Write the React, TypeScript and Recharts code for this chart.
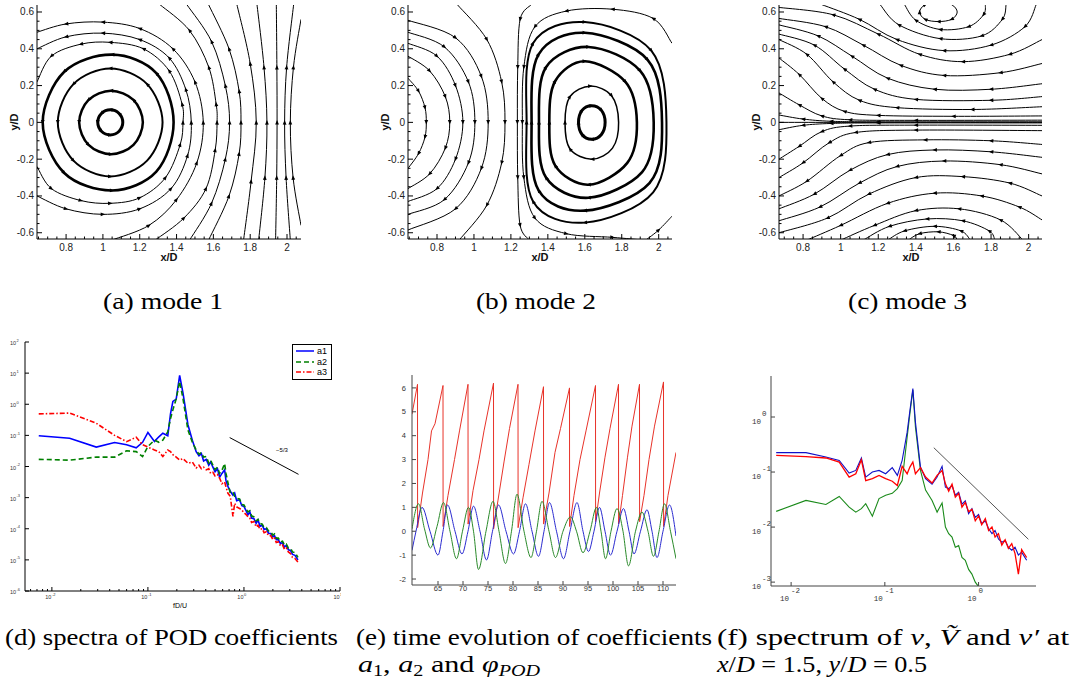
import React from 'react'
import { LineChart, Line, XAxis, YAxis, ReferenceLine, Legend } from 'recharts'

type Pt = [number, number]

// ---------- (a) mode 1 streamlines ----------
const mode1Loops: Pt[][] = [
  [[1.108, 0], [1.088, 0.048], [1.04, 0.068], [0.992, 0.048], [0.972, 0], [0.992, -0.048], [1.04, -0.068], [1.088, -0.048]],
  [[1.217, 0], [1.166, 0.122], [1.044, 0.172], [0.922, 0.122], [0.871, 0], [0.922, -0.122], [1.044, -0.173], [1.166, -0.122]],
  [[1.324, 0], [1.24, 0.208], [1.04, 0.293], [0.84, 0.208], [0.755, 0], [0.84, -0.208], [1.04, -0.294], [1.24, -0.208]],
  [[1.384, 0], [1.29, 0.268], [1.05, 0.368], [0.79, 0.275], [0.673, 0], [0.79, -0.275], [1.05, -0.37], [1.29, -0.268]],
]
const mode1Lines: Pt[][] = [
  [[0.642, 0.22], [0.72, 0.36], [0.88, 0.425], [1.04, 0.435], [1.22, 0.4], [1.36, 0.28], [1.43, 0.1], [1.435, 0], [1.42, -0.12], [1.34, -0.3], [1.2, -0.41], [1.04, -0.44], [0.88, -0.425], [0.72, -0.36], [0.642, -0.24]],
  [[0.642, 0.4], [0.8, 0.465], [1.0, 0.485], [1.2, 0.45], [1.36, 0.35], [1.45, 0.18], [1.48, 0], [1.46, -0.18], [1.37, -0.36], [1.2, -0.47], [1.0, -0.5], [0.8, -0.47], [0.642, -0.4]],
  [[0.642, 0.49], [0.8, 0.535], [1.0, 0.545], [1.2, 0.51], [1.38, 0.4], [1.5, 0.22], [1.545, 0], [1.51, -0.22], [1.4, -0.42], [1.25, -0.56], [1.048, -0.64]],
  [[1.31, 0.64], [1.47, 0.5], [1.575, 0.3], [1.615, 0.1], [1.62, 0], [1.61, -0.15], [1.56, -0.36], [1.44, -0.52], [1.284, -0.64]],
  [[1.456, 0.64], [1.59, 0.44], [1.665, 0.2], [1.688, 0], [1.665, -0.2], [1.59, -0.44], [1.471, -0.64]],
  [[1.574, 0.64], [1.685, 0.4], [1.74, 0.17], [1.75, 0], [1.74, -0.17], [1.685, -0.4], [1.574, -0.64]],
  [[1.728, 0.64], [1.8, 0.32], [1.833, 0], [1.805, -0.32], [1.764, -0.64]],
  [[1.837, 0.64], [1.875, 0.3], [1.891, 0], [1.88, -0.3], [1.846, -0.64]],
  [[1.942, 0.64], [1.945, 0.3], [1.946, 0], [1.944, -0.3], [1.938, -0.64]],
  [[2.036, 0.64], [1.998, 0.3], [1.987, 0], [1.995, -0.3], [2.018, -0.64]],
  [[2.076, 0.56], [2.035, 0.3], [2.018, 0], [2.033, -0.3], [2.076, -0.56]],
]

// ---------- (b) mode 2 streamlines ----------
const mode2Loops: Pt[][] = [
  [[1.71, 0], [1.69, 0.065], [1.637, 0.09], [1.585, 0.065], [1.566, 0], [1.585, -0.066], [1.637, -0.092], [1.69, -0.066]],
  [[1.783, 0], [1.745, 0.145], [1.63, 0.197], [1.52, 0.14], [1.493, 0], [1.52, -0.145], [1.64, -0.2], [1.75, -0.14]],
  [[1.882, 0], [1.82, 0.22], [1.6, 0.332], [1.44, 0.225], [1.408, 0], [1.44, -0.235], [1.62, -0.339], [1.83, -0.22]],
  [[1.973, 0], [1.9, 0.28], [1.62, 0.41], [1.39, 0.3], [1.352, 0], [1.39, -0.3], [1.62, -0.41], [1.91, -0.27]],
  [[2.018, 0], [1.94, 0.34], [1.6, 0.487], [1.35, 0.37], [1.312, 0], [1.35, -0.37], [1.6, -0.48], [1.95, -0.33]],
  [[2.042, 0], [1.96, 0.39], [1.6, 0.545], [1.32, 0.43], [1.285, 0], [1.32, -0.43], [1.6, -0.545], [1.97, -0.38]],
]
const mode2Lines: Pt[][] = [
  [[2.072, 0.43], [1.97, 0.565], [1.75, 0.615], [1.5, 0.605], [1.33, 0.52], [1.27, 0.3], [1.262, 0], [1.27, -0.3], [1.33, -0.52], [1.5, -0.605], [1.75, -0.625], [1.92, -0.64]],
  [[1.31, 0.64], [1.25, 0.56], [1.237, 0.3], [1.235, 0], [1.237, -0.3], [1.25, -0.56], [1.3, -0.64]],
  [[1.93, -0.64], [2.0, -0.585], [2.072, -0.51]],
  [[0.643, 0.24], [0.7, 0.17], [0.735, 0.08], [0.742, 0], [0.735, -0.08], [0.7, -0.17], [0.643, -0.25]],
  [[0.643, 0.36], [0.76, 0.28], [0.845, 0.14], [0.869, 0], [0.845, -0.14], [0.76, -0.28], [0.643, -0.36]],
  [[0.643, 0.43], [0.8, 0.36], [0.9, 0.2], [0.94, 0], [0.9, -0.2], [0.8, -0.36], [0.643, -0.43]],
  [[0.643, 0.49], [0.84, 0.41], [0.97, 0.22], [1.005, 0], [0.97, -0.22], [0.84, -0.42], [0.643, -0.5]],
  [[0.643, 0.555], [0.9, 0.46], [1.04, 0.25], [1.077, 0], [1.04, -0.25], [0.9, -0.47], [0.643, -0.585]],
  [[0.91, 0.64], [1.07, 0.45], [1.15, 0.22], [1.168, 0], [1.15, -0.22], [1.07, -0.45], [0.92, -0.64]],
]

// ---------- (c) mode 3 streamlines ----------
const mode3Loops: Pt[][] = [
  [[1.62, 0.6], [1.59, 0.56], [1.52, 0.548], [1.45, 0.56], [1.42, 0.6], [1.45, 0.64], [1.52, 0.655], [1.59, 0.64]],
]
const mode3Lines: Pt[][] = [
  [[0.672, 0], [2.071, 0]],
  [[0.672, 0.04], [0.8, 0.018], [0.95, 0.006], [1.2, 0.003], [2.071, 0.003]],
  [[0.672, 0.16], [0.78, 0.095], [0.9, 0.035], [1.05, 0.014], [1.4, 0.011], [2.071, 0.012]],
  [[0.672, 0.35], [0.78, 0.26], [0.9, 0.13], [1.02, 0.06], [1.2, 0.038], [1.6, 0.033], [2.071, 0.035]],
  [[0.672, 0.45], [0.82, 0.37], [0.96, 0.22], [1.1, 0.12], [1.3, 0.08], [1.7, 0.07], [2.071, 0.085]],
  [[0.672, 0.48], [0.86, 0.42], [1.02, 0.29], [1.18, 0.18], [1.4, 0.125], [1.8, 0.12], [2.071, 0.14]],
  [[0.672, 0.53], [0.88, 0.47], [1.06, 0.36], [1.25, 0.24], [1.5, 0.18], [1.8, 0.18], [2.071, 0.21]],
  [[0.672, 0.565], [0.92, 0.52], [1.12, 0.42], [1.32, 0.31], [1.55, 0.255], [1.85, 0.27], [2.071, 0.32]],
  [[0.672, 0.625], [0.96, 0.585], [1.2, 0.48], [1.42, 0.37], [1.65, 0.33], [1.9, 0.37], [2.071, 0.45]],
  [[0.9, 0.64], [1.1, 0.56], [1.3, 0.45], [1.55, 0.39], [1.8, 0.42], [1.98, 0.52], [2.04, 0.64]],
  [[1.21, 0.64], [1.31, 0.53], [1.53, 0.455], [1.75, 0.47], [1.86, 0.56], [1.88, 0.64]],
  [[1.34, 0.64], [1.4, 0.555], [1.53, 0.505], [1.68, 0.52], [1.76, 0.585], [1.77, 0.64]],
  [[0.672, -0.04], [0.8, -0.016], [0.95, -0.006], [1.2, -0.003], [2.071, -0.003]],
  [[0.672, -0.2], [0.78, -0.13], [0.9, -0.05], [1.05, -0.02], [1.4, -0.015], [2.071, -0.016]],
  [[0.672, -0.3], [0.8, -0.22], [0.94, -0.11], [1.08, -0.055], [1.4, -0.042], [2.071, -0.045]],
  [[0.672, -0.4], [0.82, -0.32], [1.0, -0.18], [1.15, -0.11], [1.45, -0.095], [1.8, -0.1], [2.071, -0.12]],
  [[0.672, -0.47], [0.86, -0.39], [1.05, -0.26], [1.25, -0.175], [1.5, -0.15], [1.8, -0.16], [2.071, -0.19]],
  [[0.672, -0.535], [0.89, -0.46], [1.1, -0.33], [1.3, -0.24], [1.55, -0.21], [1.85, -0.23], [2.071, -0.28]],
  [[0.672, -0.6], [0.93, -0.52], [1.15, -0.39], [1.4, -0.3], [1.65, -0.295], [1.9, -0.33], [2.071, -0.4]],
  [[0.82, -0.64], [1.0, -0.56], [1.25, -0.44], [1.5, -0.385], [1.75, -0.4], [1.95, -0.46], [2.071, -0.53]],
  [[1.0, -0.64], [1.18, -0.56], [1.4, -0.48], [1.63, -0.47], [1.85, -0.53], [1.97, -0.64]],
  [[1.12, -0.64], [1.26, -0.565], [1.46, -0.525], [1.65, -0.535], [1.79, -0.59], [1.82, -0.64]],
  [[1.25, -0.64], [1.34, -0.59], [1.5, -0.565], [1.64, -0.59], [1.69, -0.64]],
  [[1.36, -0.64], [1.42, -0.605], [1.52, -0.595], [1.6, -0.615], [1.62, -0.64]],
]

// axis ticks (major every 0.2, minor every 0.05)
const streamXTicks = [0.65, 0.7, 0.75, 0.8, 0.85, 0.9, 0.95, 1, 1.05, 1.1, 1.15, 1.2, 1.25, 1.3, 1.35, 1.4, 1.45, 1.5, 1.55, 1.6, 1.65, 1.7, 1.75, 1.8, 1.85, 1.9, 1.95, 2, 2.05]
const streamYTicks = [-0.6, -0.55, -0.5, -0.45, -0.4, -0.35, -0.3, -0.25, -0.2, -0.15, -0.1, -0.05, 0, 0.05, 0.1, 0.15, 0.2, 0.25, 0.3, 0.35, 0.4, 0.45, 0.5, 0.55, 0.6]

// ---------- (d) spectra of POD coefficients ----------
const podFreq = [
  0.0073, 0.0153, 0.029, 0.045, 0.06, 0.0755, 0.088, 0.1, 0.117, 0.13, 0.143, 0.161, 0.172, 0.182, 0.197, 0.214, 0.232, 0.261, 0.29, 0.318,
  0.34, 0.36, 0.38, 0.405, 0.43, 0.45, 0.475, 0.5, 0.53, 0.558,
  0.59, 0.629, 0.65, 0.681, 0.72, 0.768, 0.8, 0.84, 0.9, 0.95,
  1.0, 1.06, 1.1, 1.15, 1.2, 1.27, 1.34, 1.4, 1.47, 1.55,
  1.62, 1.71, 1.8, 1.9, 2.0, 2.08, 2.17, 2.28, 2.4, 2.52,
  2.64, 2.76, 2.9, 3.05, 3.2, 3.4, 3.65,
]
const a1Psd = [
  0.097, 0.081, 0.042, 0.059, 0.05, 0.04, 0.06, 0.124, 0.064, 0.09, 0.117, 0.097, 0.5, 1.23, 1.46, 8.4, 2.27, 0.22, 0.07, 0.03,
  0.022, 0.026, 0.015, 0.017, 0.011, 0.014, 0.0095, 0.0068, 0.0085, 0.0045,
  0.006, 0.0078, 0.0035, 0.0023, 0.0016, 0.0012, 0.0014, 0.0008, 0.00085, 0.00055,
  0.00052, 0.00036, 0.00028, 0.00035, 0.00022, 0.00021, 0.00015, 0.00019, 0.00012, 0.00013,
  9.5e-5, 1e-4, 7.2e-5, 7e-5, 5.5e-5, 6e-5, 4.5e-5, 4.4e-5, 3.3e-5, 3.6e-5,
  2.6e-5, 2.9e-5, 2.1e-5, 2e-5, 1.5e-5, 1.4e-5, 1e-5,
]
const a2Psd = [
  0.017, 0.016, 0.02, 0.02, 0.032, 0.03, 0.021, 0.044, 0.07, 0.06, 0.07, 0.13, 0.35, 0.66, 1.5, 5.4, 1.5, 0.15, 0.06, 0.034,
  0.025, 0.028, 0.02, 0.021, 0.013, 0.016, 0.011, 0.008, 0.0095, 0.006,
  0.0075, 0.0125, 0.006, 0.003, 0.0014, 0.0015, 0.0011, 0.00095, 0.0009, 0.0006,
  0.00058, 0.00042, 0.00035, 0.00038, 0.00026, 0.00024, 0.00018, 0.0002, 0.00015, 0.00014,
  1.1e-4, 1.1e-4, 8.5e-5, 8e-5, 6.2e-5, 6.8e-5, 5e-5, 5e-5, 3.8e-5, 4e-5,
  3e-5, 3.2e-5, 2.4e-5, 2.4e-5, 1.8e-5, 1.7e-5, 1.2e-5,
]
const a3Psd = [
  0.49, 0.52, 0.245, 0.1, 0.063, 0.087, 0.05, 0.042, 0.034, 0.03, 0.021, 0.034, 0.03, 0.024, 0.02, 0.016, 0.018, 0.0127, 0.014, 0.0089,
  0.011, 0.0085, 0.0095, 0.0078, 0.0085, 0.006, 0.0065, 0.005, 0.0055, 0.0042,
  0.0028, 0.0032, 0.0022, 0.00138, 0.0011, 0.00025, 0.00065, 0.0005, 0.00045, 0.0004,
  0.00033, 0.00028, 0.00024, 0.00022, 0.00016, 0.00017, 0.000115, 0.00013, 9.5e-5, 1e-4,
  7.5e-5, 8e-5, 6e-5, 6e-5, 4.5e-5, 5e-5, 3.6e-5, 3.8e-5, 2.8e-5, 3e-5,
  2.2e-5, 2.4e-5, 1.8e-5, 1.6e-5, 1.2e-5, 1.1e-5, 8.5e-6,
]
const podSlope = [{ x: 0.71, y: 0.085 }, { x: 3.7, y: 0.0056 }]
const podSeries = [
  { key: 'a1', color: '#0000ff', dash: undefined },
  { key: 'a2', color: '#008000', dash: '5 3' },
  { key: 'a3', color: '#ff0000', dash: '5 2 1.5 2' },
]
const podXTicks = [0.006, 0.007, 0.008, 0.009, 0.01, 0.02, 0.03, 0.04, 0.05, 0.06, 0.07, 0.08, 0.09, 0.1, 0.2, 0.3, 0.4, 0.5, 0.6, 0.7, 0.8, 0.9, 1, 2, 3, 4, 5, 6, 7, 8, 9, 10]
const podYTicks = [1e-6, 1e-5, 1e-4, 1e-3, 1e-2, 1e-1, 1, 10, 100]

// ---------- (e) time evolution ----------
const phiPod: Pt[] = [
  [59.8, 4.9], [60.9, 6.15], [60.92, 0.15], [61.9, 1.6], [63.0, 3.0], [63.7, 4.2], [64.4, 4.5], [66.0, 6.1],
  [66.02, 0.2], [67.0, 1.5], [68.3, 3.0], [69.3, 4.2], [71.0, 6.15],
  [71.02, 0.3], [72.0, 1.7], [73.2, 3.0], [74.2, 4.2], [76.1, 6.2],
  [76.12, 0.1], [77.0, 1.3], [78.2, 2.9], [79.3, 4.3], [81.0, 6.15],
  [81.02, 0.15], [82.0, 1.4], [83.2, 2.8], [84.4, 4.2], [86.1, 6.05],
  [86.12, 0.3], [87.2, 1.6], [88.4, 3.3], [89.5, 4.3], [91.3, 6.0],
  [91.32, 0.2], [92.2, 1.5], [93.4, 3.0], [94.6, 4.2], [96.5, 6.1],
  [96.52, 0.4], [97.3, 1.6], [98.4, 3.1], [99.4, 4.3], [101.1, 6.15],
  [101.12, 0.3], [101.9, 1.5], [102.9, 3.1], [103.8, 4.4], [105.3, 6.15],
  [105.32, 0.4], [106.2, 1.5], [107.2, 3.0], [108.3, 4.4], [110.1, 6.25],
  [110.12, 0.2], [111.0, 1.5], [112.6, 3.3],
]
const a1Time: Pt[] = [
  [59.8, -0.8], [60.6, 0], [61.8, 1.0], [63.4, 0], [65.0, -1.0], [66.0, 0], [66.9, 1.1], [68.4, 0], [69.8, -0.95], [71.0, 0],
  [72.1, 1.05], [73.4, 0], [74.7, -1.2], [75.9, 0], [77.1, 1.1], [78.6, 0], [80.1, -0.95], [81.3, 0], [82.5, 1.15], [83.8, 0],
  [85.1, -1.05], [86.2, 0], [87.3, 1.2], [88.7, 0], [90.1, -1.15], [91.4, 0], [92.8, 1.2], [94.0, 0], [95.1, -0.85], [96.2, 0],
  [97.3, 1.0], [98.4, 0], [99.5, -1.0], [100.8, 0], [102.1, 0.95], [103.2, 0], [104.2, -0.95], [105.5, 0], [106.8, 0.9], [107.8, 0],
  [108.8, -1.1], [110.0, 0], [111.3, 1.1], [112.6, -0.2],
]
const a2Time: Pt[] = [
  [59.8, 0.1], [61.1, 1.15], [62.3, 0.1], [63.5, -0.7], [64.8, 0.2], [66.1, 1.2], [67.4, 0], [68.7, -1.15], [69.9, 0], [71.1, 1.0],
  [72.1, 0], [73.1, -1.6], [74.6, 0], [76.0, 1.25], [77.2, 0], [78.5, -1.35], [79.7, 0], [80.8, 1.55], [82.2, 0], [83.6, -1.1],
  [84.7, 0], [85.8, 1.25], [87.2, 0], [88.5, -1.1], [90.0, 0], [91.5, 0.6], [92.7, 0], [94.0, -0.9], [95.4, 0], [96.7, 1.0],
  [97.6, 0], [98.5, -1.15], [99.6, 0], [100.8, 0.95], [102.0, 0], [103.1, -1.45], [104.5, 0], [105.8, 0.8], [107.0, 0], [108.1, -1.05],
  [109.2, 0], [110.3, 1.15], [111.5, 0], [112.6, -1.15],
]
const timeTicks = [65, 70, 75, 80, 85, 90, 95, 100, 105, 110]
const coefTicks = [-2, -1, 0, 1, 2, 3, 4, 5, 6]

// ---------- (f) spectrum at x/D = 1.5, y/D = 0.5 ----------
const specFreq = [
  0.00693, 0.0144, 0.0235, 0.0326, 0.0416, 0.049, 0.0562, 0.0625, 0.0736, 0.0867,
  0.102, 0.12, 0.136, 0.153, 0.173, 0.185, 0.199, 0.212, 0.24, 0.272,
  0.319, 0.361, 0.408, 0.443, 0.48, 0.521, 0.565, 0.613, 0.665, 0.722,
  0.783, 0.849, 0.922, 1.0, 1.08, 1.18, 1.28, 1.39, 1.5, 1.63,
  1.77, 1.92, 2.08, 2.26, 2.45, 2.66, 2.88, 3.26,
]
const vPsd = [
  0.225, 0.225, 0.187, 0.163, 0.096, 0.107, 0.18, 0.081, 0.1, 0.107,
  0.093, 0.12, 0.087, 0.163, 0.53, 1.3, 3.3, 0.81, 0.123, 0.076,
  0.06, 0.081, 0.127, 0.053, 0.05, 0.057, 0.038, 0.043, 0.026, 0.03,
  0.0175, 0.0216, 0.015, 0.017, 0.0115, 0.013, 0.0093, 0.0076, 0.0087, 0.0061,
  0.0053, 0.0057, 0.0043, 0.0038, 0.0043, 0.0031, 0.0035, 0.0025,
]
const vTildePsd = [
  0.0193, 0.0305, 0.0257, 0.036, 0.023, 0.0187, 0.0216, 0.0266, 0.0158, 0.033,
  0.038, 0.041, 0.05, 0.07, 0.43, 1.15, 3.1, 0.66, 0.107, 0.047,
  0.0305, 0.0187, 0.0275, 0.01, 0.0076, 0.0066, 0.0043, 0.0046, 0.0028, 0.0025,
  0.0017, 0.0014, 0.001, 0.00083, 0.0006, null, null, null, null, null,
  null, null, null, null, null, null, null, null,
]
const vPrimePsd = [
  0.2, 0.19, 0.18, 0.152, 0.081, 0.093, 0.167, 0.07, 0.076, 0.087,
  0.076, 0.068, 0.057, 0.127, 0.093, 0.123, 0.152, 0.093, 0.12, 0.081,
  0.063, 0.087, 0.107, 0.061, 0.045, 0.06, 0.035, 0.041, 0.023, 0.028,
  0.019, 0.021, 0.013, 0.016, 0.011, 0.0142, 0.0087, 0.01, 0.0066, 0.0076,
  0.0047, 0.0059, 0.0041, 0.005, 0.0033, 0.0014, 0.0039, 0.0028,
]
const specSlope = [{ x: 0.333, y: 0.277 }, { x: 3.4, y: 0.006 }]

// Catmull-Rom curve factory (open or closed) for the streamlines
const catmull = (closed: boolean) => (ctx: any) => {
  let pts: number[][] = []
  return {
    areaStart() {},
    areaEnd() {},
    lineStart() { pts = [] },
    point(x: number, y: number) { pts.push([+x, +y]) },
    lineEnd() {
      const n = pts.length
      if (n < 2) return
      const at = (i: number) => (closed ? pts[(i + n) % n] : pts[Math.max(0, Math.min(n - 1, i))])
      ctx.moveTo(pts[0][0], pts[0][1])
      const segs = closed ? n : n - 1
      for (let i = 0; i < segs; i++) {
        const p0 = at(i - 1), p1 = at(i), p2 = at(i + 1), p3 = at(i + 2)
        ctx.bezierCurveTo(
          p1[0] + (p2[0] - p0[0]) / 6, p1[1] + (p2[1] - p0[1]) / 6,
          p2[0] - (p3[0] - p1[0]) / 6, p2[1] - (p3[1] - p1[1]) / 6,
          p2[0], p2[1]
        )
      }
      if (closed) ctx.closePath()
    },
  }
}
const openCurve = catmull(false)
const closedCurve = catmull(true)

// small arrow heads on the streamlines, pointing along the flow
const arrowDot = (reverse: boolean) => (p: any) => {
  const { cx, cy, index, points, key } = p
  const pts = points || []
  if (pts.length < 3 || index <= 0 || index >= pts.length - 1 || cx == null || cy == null) return <g key={key} />
  const a = pts[index - 1], b = pts[index + 1]
  let dx = b.x - a.x, dy = b.y - a.y
  if (reverse) { dx = -dx; dy = -dy }
  const len = Math.hypot(dx, dy) || 1
  const ux = dx / len, uy = dy / len
  const L = 4.5, W = 1.9
  const d = `M${cx + ux * L / 2},${cy + uy * L / 2}L${cx - ux * L / 2 - uy * W},${cy - uy * L / 2 + ux * W}L${cx - ux * L / 2 + uy * W},${cy - uy * L / 2 - ux * W}Z`
  return <path key={key} d={d} fill="#000" />
}

const toXY = (c: Pt[]) => c.map(([x, y]) => ({ x, y }))
const sans = "'Liberation Sans', Arial, Helvetica, sans-serif"
const serif = "'Liberation Serif', 'Times New Roman', serif"
const isMajor = (v: number) => Math.abs(v * 5 - Math.round(v * 5)) < 1e-6
const fmt = (v: number) => String(Math.round(v * 100) / 100)

// Tecplot style ticks drawn inside the frame, labels only on the major ones
const StreamTickX = ({ x, y, payload }: any) => {
  const major = isMajor(payload.value)
  return (
    <g>
      <line x1={x} x2={x} y1={y} y2={y - (major ? 5 : 2.5)} stroke="#000" />
      {major && <text x={x} y={y + 12} textAnchor="middle" fontSize={10} fontFamily={sans} fill="#222">{fmt(payload.value)}</text>}
    </g>
  )
}
const StreamTickY = ({ x, y, payload }: any) => {
  const major = isMajor(payload.value)
  return (
    <g>
      <line x1={x} x2={x + (major ? 5 : 2.5)} y1={y} y2={y} stroke="#000" />
      {major && <text x={x - 3} y={y + 3.5} textAnchor="end" fontSize={10} fontFamily={sans} fill="#222">{fmt(payload.value)}</text>}
    </g>
  )
}

function StreamPanel({ plotLeft, plotRight, xDomain, loops, loopWidths, lines, reverseLines, reverseLoops }: {
  plotLeft: number; plotRight: number; xDomain: [number, number]; loops: Pt[][]; loopWidths: number[]; lines: Pt[][]
  reverseLines: boolean; reverseLoops: boolean
}) {
  const yw = 38
  const xt = streamXTicks.filter((v) => v >= xDomain[0] && v <= xDomain[1])
  return (
    <div style={{ position: 'absolute', left: plotLeft - yw, top: 0 }}>
      <LineChart width={plotRight - plotLeft + yw + 1} height={262} margin={{ top: 5, right: 1, bottom: 0, left: 0 }}>
        <XAxis dataKey="x" type="number" domain={xDomain} allowDataOverflow ticks={xt} interval={0} height={23}
          tickSize={0} tickMargin={0} tickLine={false} stroke="#000" tick={<StreamTickX />} />
        <YAxis type="number" domain={[-0.634, 0.638]} allowDataOverflow ticks={streamYTicks} interval={0} width={yw}
          tickSize={0} tickMargin={0} tickLine={false} stroke="#000" tick={<StreamTickY />} />
        <XAxis xAxisId="top" orientation="top" type="number" domain={xDomain} allowDataOverflow height={0} tick={false} tickLine={false} stroke="#000" />
        <YAxis yAxisId="right" orientation="right" type="number" domain={[-0.634, 0.638]} allowDataOverflow width={0} tick={false} tickLine={false} stroke="#000" />
        {lines.map((c, i) => (
          <Line key={'l' + i} data={toXY(c)} dataKey="y" type={openCurve as any} dot={arrowDot(reverseLines)} activeDot={false}
            stroke="#000" strokeWidth={1} isAnimationActive={false} />
        ))}
        {loops.map((c, i) => (
          <Line key={'o' + i} data={toXY(c)} dataKey="y" type={closedCurve as any} dot={arrowDot(reverseLoops)} activeDot={false}
            stroke="#000" strokeWidth={loopWidths[i]} isAnimationActive={false} />
        ))}
      </LineChart>
    </div>
  )
}

const expOf = (v: number) => Math.round(Math.log10(v))
const isDecade = (v: number) => Math.abs(Math.log10(v) - Math.round(Math.log10(v))) < 1e-6

const PodTickY = ({ x, y, payload }: any) => (
  <g fontFamily={sans} fill="#333">
    <line x1={x} x2={x + 4} y1={y} y2={y} stroke="#000" />
    <text x={x - 9} y={y + 3} textAnchor="end" fontSize={5.5}>10</text>
    <text x={x - 8.5} y={y - 0.5} textAnchor="start" fontSize={4}>{expOf(payload.value)}</text>
  </g>
)
const PodTickX = ({ x, y, payload }: any) => {
  const major = isDecade(payload.value)
  return (
    <g fontFamily={sans} fill="#333">
      <line x1={x} x2={x} y1={y} y2={y - (major ? 4 : 2)} stroke="#000" />
      {major && <text x={x - 0.5} y={y + 8} textAnchor="end" fontSize={5.5}>10</text>}
      {major && <text x={x} y={y + 5} textAnchor="start" fontSize={4}>{expOf(payload.value)}</text>}
    </g>
  )
}
const mono = "'Liberation Mono', 'DejaVu Sans Mono', monospace"
const SpecTickY = ({ x, y, payload }: any) => (
  <g fontFamily={mono} fill="#333">
    <line x1={x} x2={x + 4} y1={y} y2={y} stroke="#444" />
    <text x={x - 10} y={y + 7} textAnchor="end" fontSize={7.5}>10</text>
    <text x={x - 9} y={y - 1} textAnchor="start" fontSize={7.5}>{expOf(payload.value)}</text>
  </g>
)
const SpecTickX = ({ x, y, payload }: any) => (
  <g fontFamily={mono} fill="#333">
    <line x1={x} x2={x} y1={y} y2={y - 4} stroke="#444" />
    <text x={x - 2} y={y + 15} textAnchor="end" fontSize={7.5}>10</text>
    <text x={x} y={y + 7} textAnchor="start" fontSize={7.5}>{expOf(payload.value)}</text>
  </g>
)

function PodLegend() {
  return (
    <div style={{ border: '1.5px solid #000', background: '#fff', padding: '1px 3px', width: 40, boxSizing: 'border-box' }}>
      {podSeries.map((s) => (
        <div key={s.key} style={{ display: 'flex', alignItems: 'center', height: 10.5 }}>
          <svg width={18} height={6}>
            <line x1={0} y1={3} x2={18} y2={3} stroke={s.color} strokeWidth={1.5} strokeDasharray={s.dash} />
          </svg>
          <span style={{ fontFamily: sans, fontSize: 9, marginLeft: 3, lineHeight: '10px' }}>{s.key}</span>
        </div>
      ))}
    </div>
  )
}

function PodSpectra() {
  const rows = podFreq.map((f, i) => ({ f, a1: a1Psd[i], a2: a2Psd[i], a3: a3Psd[i] }))
  const xd: [number, number] = [0.00525, 10]
  const yd: [number, number] = [1e-6, 100]
  return (
    <div style={{ position: 'absolute', left: 0, top: 335 }}>
      <LineChart width={341} height={280} data={rows} margin={{ top: 7, right: 1, bottom: 0, left: 0 }}>
        <XAxis dataKey="f" type="number" scale="log" domain={xd} allowDataOverflow ticks={podXTicks} interval={0} height={24}
          tickSize={0} tickMargin={0} tickLine={false} stroke="#000" tick={<PodTickX />} />
        <YAxis type="number" scale="log" domain={yd} allowDataOverflow ticks={podYTicks} interval={0} width={25}
          tickSize={0} tickMargin={0} tickLine={false} stroke="#000" tick={<PodTickY />} />
        <XAxis xAxisId="top" orientation="top" type="number" scale="log" domain={xd} allowDataOverflow ticks={[0.01, 0.1, 1, 10]}
          height={0} tickSize={-4} tick={false} stroke="#000" />
        <YAxis yAxisId="right" orientation="right" type="number" scale="log" domain={yd} allowDataOverflow ticks={podYTicks}
          width={0} tickSize={-4} tick={false} stroke="#000" />
        <ReferenceLine segment={podSlope} stroke="#000" strokeWidth={1} />
        {podSeries.map((s) => (
          <Line key={s.key} dataKey={s.key} type="linear" stroke={s.color} strokeWidth={1.6} strokeDasharray={s.dash}
            dot={false} activeDot={false} isAnimationActive={false} />
        ))}
        <Legend layout="vertical" align="center" verticalAlign="middle" content={() => <PodLegend />}
          wrapperStyle={{ left: 292, top: 9, width: 46, height: 38 }} />
      </LineChart>
    </div>
  )
}

function TimeEvolution() {
  const tick = { fontSize: 7.5, fill: '#333', fontFamily: sans }
  const series = [
    { id: 'phi', data: phiPod, color: '#e8332a', type: 'linear' },
    { id: 'a1', data: a1Time, color: '#2b2bd0', type: 'monotone' },
    { id: 'a2', data: a2Time, color: '#2a8a2a', type: 'monotone' },
  ]
  return (
    <div style={{ position: 'absolute', left: 372, top: 360 }}>
      <LineChart width={305} height={240} margin={{ top: 15, right: 1, bottom: 0, left: 0 }}>
        <XAxis dataKey="x" type="number" domain={[59.8, 112.6]} allowDataOverflow ticks={timeTicks} height={15}
          tickSize={-4} tickMargin={5} stroke="#444" tick={tick} />
        <YAxis type="number" domain={[-2.25, 6.54]} allowDataOverflow ticks={coefTicks} width={40}
          tickSize={-4} tickMargin={10} stroke="#444" tick={tick} />
        <XAxis xAxisId="top" orientation="top" type="number" domain={[59.8, 112.6]} allowDataOverflow ticks={timeTicks}
          height={0} tickSize={-4} tick={false} stroke="#444" />
        <YAxis yAxisId="right" orientation="right" type="number" domain={[-2.25, 6.54]} allowDataOverflow ticks={coefTicks}
          width={0} tickSize={-4} tick={false} stroke="#444" />
        {series.map((s) => (
          <Line key={s.id} data={toXY(s.data)} dataKey="y" type={s.type as any} stroke={s.color} strokeWidth={1}
            dot={false} activeDot={false} isAnimationActive={false} />
        ))}
      </LineChart>
    </div>
  )
}

function PointSpectrum() {
  const rows = specFreq.map((f, i) => ({ f, v: vPsd[i], vt: vTildePsd[i], vp: vPrimePsd[i] }))
  const xTicks = [0.01, 0.1, 1]
  const yTicks = [0.001, 0.01, 0.1, 1]
  const xd: [number, number] = [0.0061, 4.1]
  const yd: [number, number] = [0.00085, 5.56]
  return (
    <div style={{ position: 'absolute', left: 731, top: 360 }}>
      <LineChart width={306} height={250} data={rows} margin={{ top: 16, right: 1, bottom: 0, left: 0 }}>
        <XAxis dataKey="f" type="number" scale="log" domain={xd} allowDataOverflow ticks={xTicks} interval={0} height={24}
          tickSize={0} tickMargin={0} tickLine={false} stroke="#444" tick={<SpecTickX />} />
        <YAxis type="number" scale="log" domain={yd} allowDataOverflow ticks={yTicks} interval={0} width={40}
          tickSize={0} tickMargin={0} tickLine={false} stroke="#444" tick={<SpecTickY />} />
        <XAxis xAxisId="top" orientation="top" type="number" scale="log" domain={xd} allowDataOverflow ticks={xTicks}
          height={0} tickSize={-4} tick={false} stroke="#444" />
        <YAxis yAxisId="right" orientation="right" type="number" scale="log" domain={yd} allowDataOverflow ticks={yTicks}
          width={0} tickSize={-4} tick={false} stroke="#444" />
        <ReferenceLine segment={specSlope} stroke="#555" strokeWidth={1} />
        <Line dataKey="vt" type="linear" stroke="#1a8a1a" strokeWidth={1.1} dot={false} activeDot={false} isAnimationActive={false} />
        <Line dataKey="v" type="linear" stroke="#1010c8" strokeWidth={1.1} dot={false} activeDot={false} isAnimationActive={false} />
        <Line dataKey="vp" type="linear" stroke="#ff0000" strokeWidth={1.3} dot={false} activeDot={false} isAnimationActive={false} />
      </LineChart>
    </div>
  )
}

export default function App() {
  return (
    <div style={{ position: 'absolute', left: 0, top: 0, width: 1076, height: 691, background: '#fff', overflow: 'hidden' }}>
      <StreamPanel plotLeft={37} plotRight={301} xDomain={[0.642, 2.076]} loops={mode1Loops} loopWidths={[3, 2.5, 2, 2.6]}
        lines={mode1Lines} reverseLines={true} reverseLoops={false} />
      <StreamPanel plotLeft={408} plotRight={672} xDomain={[0.643, 2.072]} loops={mode2Loops} loopWidths={[3, 1.5, 2.6, 2.6, 2.6, 2]}
        lines={mode2Lines} reverseLines={false} reverseLoops={true} />
      <StreamPanel plotLeft={779} plotRight={1042} xDomain={[0.672, 2.071]} loops={mode3Loops} loopWidths={[1]}
        lines={mode3Lines} reverseLines={true} reverseLoops={false} />
      <PodSpectra />
      <TimeEvolution />
      <PointSpectrum />
      <svg width={1076} height={691} style={{ position: 'absolute', left: 0, top: 0, pointerEvents: 'none' }}>
        <g fontFamily={sans} fontWeight="bold" fontSize={11} fill="#111" textAnchor="middle">
          <text x={169} y={261}>x/D</text>
          <text x={540} y={261}>x/D</text>
          <text x={911} y={261}>x/D</text>
          <text transform="translate(18,122) rotate(-90)">y/D</text>
          <text transform="translate(389,122) rotate(-90)">y/D</text>
          <text transform="translate(760,122) rotate(-90)">y/D</text>
        </g>
        <text x={282} y={452} fontFamily={sans} fontSize={6} textAnchor="middle">−5/3</text>
        <text x={180} y={608} fontFamily={sans} fontSize={7} textAnchor="middle">fD/U</text>
        <g fontFamily={serif} fontSize={24} fill="#000">
          <text x={103} y={309} textLength={120} lengthAdjust="spacingAndGlyphs">(a) mode 1</text>
          <text x={476} y={309} textLength={120} lengthAdjust="spacingAndGlyphs">(b) mode 2</text>
          <text x={848} y={309} textLength={119} lengthAdjust="spacingAndGlyphs">(c) mode 3</text>
          <text x={5} y={645} textLength={333} lengthAdjust="spacingAndGlyphs">(d) spectra of POD coefficients</text>
          <text x={356} y={645} textLength={356} lengthAdjust="spacingAndGlyphs">(e) time evolution of coefficients</text>
          <text x={717} y={645} textLength={352} lengthAdjust="spacingAndGlyphs">
            (f) spectrum of <tspan fontStyle="italic">v</tspan>, <tspan fontStyle="italic">{'V\u0303'}</tspan> and <tspan fontStyle="italic">v′</tspan> at
          </text>
          <text x={358} y={672} textLength={182} lengthAdjust="spacingAndGlyphs">
            <tspan fontStyle="italic">a</tspan><tspan fontSize={16} dy={4}>1</tspan><tspan dy={-4}>, </tspan>
            <tspan fontStyle="italic">a</tspan><tspan fontSize={16} dy={4}>2</tspan><tspan dy={-4}> and </tspan>
            <tspan fontStyle="italic">φ</tspan><tspan fontSize={16} dy={4} fontStyle="italic">POD</tspan>
          </text>
          <text x={717} y={672} textLength={210} lengthAdjust="spacingAndGlyphs">
            <tspan fontStyle="italic">x</tspan>/<tspan fontStyle="italic">D</tspan> = 1.5, <tspan fontStyle="italic">y</tspan>/<tspan fontStyle="italic">D</tspan> = 0.5
          </text>
        </g>
      </svg>
    </div>
  )
}
